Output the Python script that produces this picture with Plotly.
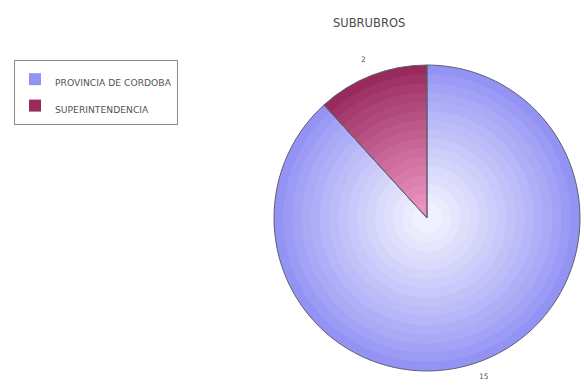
import math
import plotly.graph_objects as go

# Data
labels = ["PROVINCIA DE CORDOBA", "SUPERINTENDENCIA"]
values = [15, 2]
title_text = "SUBRUBROS"

W, H = 584, 389

# Pie geometry (pixels)
cx, cy, R = 427, 218, 153
label_r = 177

# Edge and centre colours for the radial shading of each slice
edge_cols = [(0x93, 0x93, 0xF4), (0x98, 0x2A, 0x5E)]
centre_cols = [(0xF6, 0xF6, 0xFF), (0xF0, 0x9A, 0xC8)]

FONT = "DejaVu Sans"


def mix(a, b, t):
    return "rgb(%d,%d,%d)" % tuple(round(a[i] + (b[i] - a[i]) * t) for i in range(3))


def domain(r):
    return dict(
        x=[(cx - r) / W, (cx + r) / W],
        y=[1 - (cy + r) / H, 1 - (cy - r) / H],
    )


# Legend entries: a larger base legend font sets the row height, the span keeps the text small
legend_names = ["<span style='font-size:9.2px'>%s</span>" % s for s in labels]

fig = go.Figure()

N = 16
for k in range(N):
    t = k / N
    r = R * (1 - 0.96 * t)
    cols = [mix(edge_cols[i], centre_cols[i], t ** 0.9) for i in range(2)]
    first = k == 0
    fig.add_trace(go.Pie(
        labels=legend_names,
        values=values,
        sort=False,
        direction="clockwise",
        rotation=0,
        domain=domain(r),
        marker=dict(colors=cols, line=dict(width=0)),
        textinfo="none",
        showlegend=first,
        hoverinfo="skip",
    ))

# Outline on top of the shaded layers
fig.add_trace(go.Pie(
    labels=legend_names,
    values=values,
    sort=False,
    direction="clockwise",
    rotation=0,
    domain=domain(R),
    marker=dict(colors=["rgba(0,0,0,0)"] * 2, line=dict(width=1, color="#5f5f6f")),
    textinfo="none",
    showlegend=False,
    hoverinfo="skip",
))

# Value labels outside each slice, at the slice's mid angle
total = sum(values)
cum = 0
for v in values:
    mid = (cum + v / 2) / total * 2 * math.pi
    cum += v
    px = cx + label_r * math.sin(mid)
    py = cy - label_r * math.cos(mid)
    fig.add_annotation(
        text=str(v), xref="paper", yref="paper",
        x=px / W, y=1 - py / H, showarrow=False,
        font=dict(size=7.5, color="#555555", family=FONT),
    )

fig.add_annotation(
    text=title_text, xref="paper", yref="paper",
    x=369 / W, y=1 - 14 / H, showarrow=False,
    font=dict(size=11.5, color="#4a4a4a", family=FONT),
)

fig.update_layout(
    width=W, height=H,
    margin=dict(l=0, r=0, t=0, b=0),
    paper_bgcolor="white",
    plot_bgcolor="white",
    legend=dict(
        x=14 / W, y=1 - 60 / H, xanchor="left", yanchor="top",
        bordercolor="#888888", borderwidth=1,
        font=dict(size=18, color="#555555", family=FONT),
        traceorder="normal",
    ),
)

fig.write_html("out.html")
